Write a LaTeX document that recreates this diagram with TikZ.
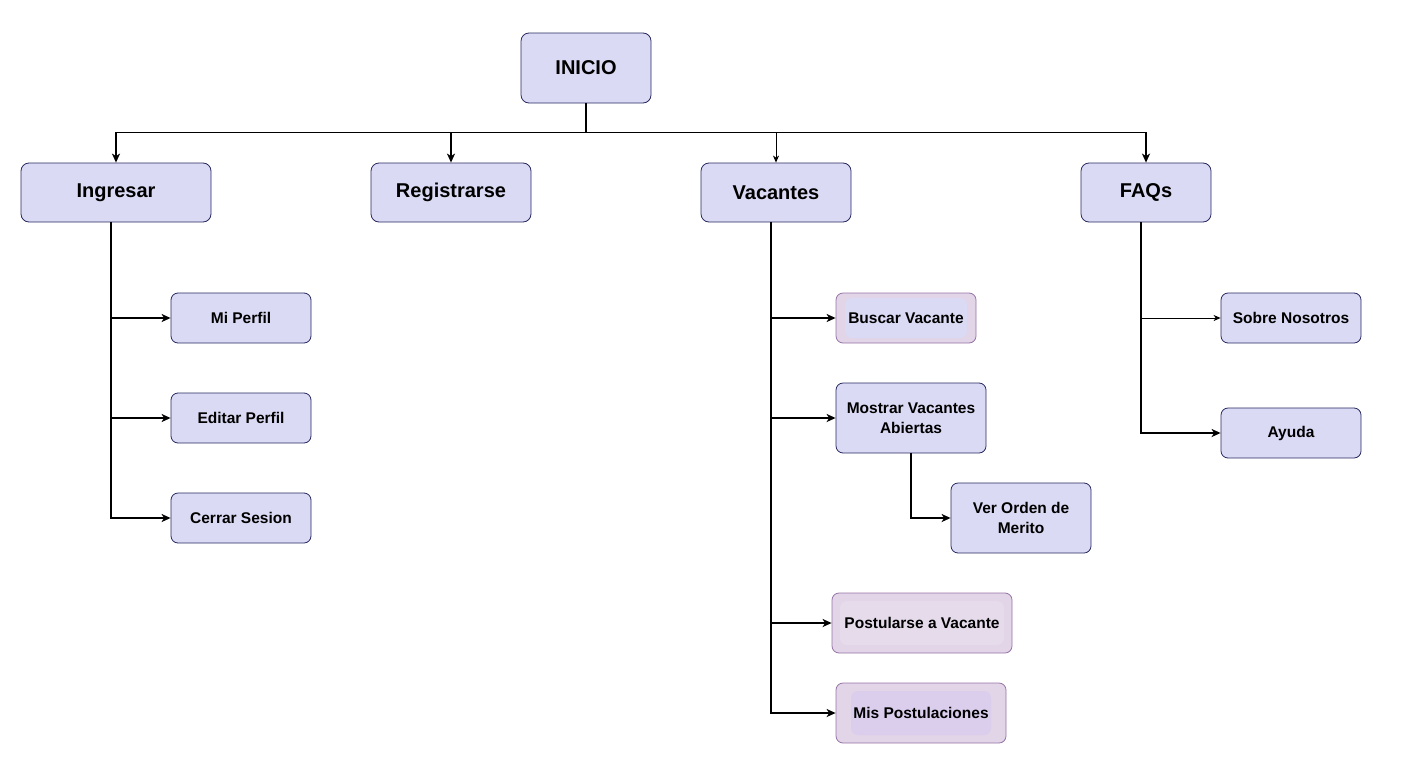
\documentclass[tikz,border=0pt]{standalone}
\usepackage{fontspec}
\setmainfont{Liberation Sans}
\usetikzlibrary{arrows.meta, positioning}
\definecolor{lavfill}{RGB}{218,218,244}
\definecolor{navyline}{RGB}{40,40,95}
\definecolor{lilacfill}{RGB}{225,213,231}
\definecolor{lilacline}{RGB}{150,115,166}
\definecolor{lilacdeep}{RGB}{219,205,236}
\definecolor{lilaclight}{RGB}{229,219,235}

\begin{document}
\begin{tikzpicture}[
  x=1pt, y=-1pt,
  menu/.style={rectangle, rounded corners=8pt, draw=navyline, fill=lavfill, line width=0.8pt, inner sep=0pt, align=center, font=\bfseries\fontsize{20}{24}\selectfont, minimum height=59pt},
  item/.style={rectangle, rounded corners=7pt, draw=navyline, fill=lavfill, line width=0.8pt, inner sep=0pt, align=center, font=\bfseries\fontsize{15.5}{20}\selectfont, minimum width=140pt, minimum height=50pt},
  lilac/.style={draw=lilacline, fill=lilacfill},
  tint/.style n args={3}{path picture={\fill[#1] ([shift={(#2,-#3)}]path picture bounding box.north west) rectangle ([shift={(-#2,#3)}]path picture bounding box.south east);}},
  arr/.style={-{Stealth[length=9pt,width=8pt,inset=2.5pt]}, line width=1.6pt},
  thinarr/.style={-{Stealth[length=7pt,width=6pt,inset=2pt]}, line width=0.9pt}
]
\useasboundingbox (0,0) rectangle (1407,779);

% -------------------------
% TOP LEVEL
% -------------------------
\node[menu, minimum width=130pt, minimum height=70pt] (inicio) at (586,68) {INICIO};

\node[menu, minimum width=190pt] (ingresar) at (116,192.5) {Ingresar};
\node[menu, minimum width=160pt] (registrarse) at (451,192.5) {Registrarse};
\node[menu, minimum width=150pt] (vacantes) at (776,192.5) {Vacantes};
\node[menu, minimum width=130pt] (faqs) at (1146,192.5) {FAQs};

% Bus from INICIO to the menu
\draw[line width=1.6pt] (inicio.south) -- ++(0,29) coordinate (hub);
\draw[arr] (hub) -| (ingresar.north);
\draw[arr] (hub) -| (registrarse.north);
\draw[thinarr] (hub) -| (vacantes.north);
\draw[arr] (hub) -| (faqs.north);

% -------------------------
% INGRESAR
% -------------------------
\node[item] (miperfil) at (241,318) {Mi Perfil};
\node[item] (editarperfil) at (241,418) {Editar Perfil};
\node[item] (cerrarsesion) at (241,518) {Cerrar Sesion};

\coordinate (ingSpine) at ([xshift=-5pt]ingresar.south);
\draw[arr] (ingSpine) |- (miperfil.west);
\draw[arr] (ingSpine) |- (editarperfil.west);
\draw[arr] (ingSpine) |- (cerrarsesion.west);

% -------------------------
% VACANTES
% -------------------------
\node[item, lilac, tint={lavfill}{9pt}{5pt}] (buscar) at (906,318) {Buscar Vacante};
\node[item, minimum width=150pt, minimum height=70pt] (mostrar) at (911,418) {Mostrar Vacantes\\Abiertas};
\node[item, minimum height=70pt] (orden) at (1021,518) {Ver Orden de\\Merito};
\node[item, lilac, tint={lilaclight}{8pt}{8pt}, minimum width=180pt, minimum height=60pt] (postularse) at (922,623) {Postularse a Vacante};
\node[item, lilac, tint={lilacdeep}{15pt}{8pt}, minimum width=170pt, minimum height=60pt] (postulaciones) at (921,713) {Mis Postulaciones};

\coordinate (vacSpine) at ([xshift=-5pt]vacantes.south);
\draw[arr] (vacSpine) |- (buscar.west);
\draw[arr] (vacSpine) |- (mostrar.west);
\draw[arr] (vacSpine) |- (postularse.west);
\draw[arr] (vacSpine) |- (postulaciones.west);

\draw[arr] (mostrar.south) |- (orden.west);

% -------------------------
% FAQS
% -------------------------
\node[item] (nosotros) at (1291,318) {Sobre Nosotros};
\node[item] (ayuda) at (1291,433) {Ayuda};

\coordinate (faqSpine) at ([xshift=-5pt]faqs.south);
\draw[line width=1.6pt] (faqSpine) -- (faqSpine |- nosotros.west);
\draw[thinarr] (faqSpine |- nosotros.west) -- (nosotros.west);
\draw[arr] (faqSpine) |- (ayuda.west);

\end{tikzpicture}
\end{document}
